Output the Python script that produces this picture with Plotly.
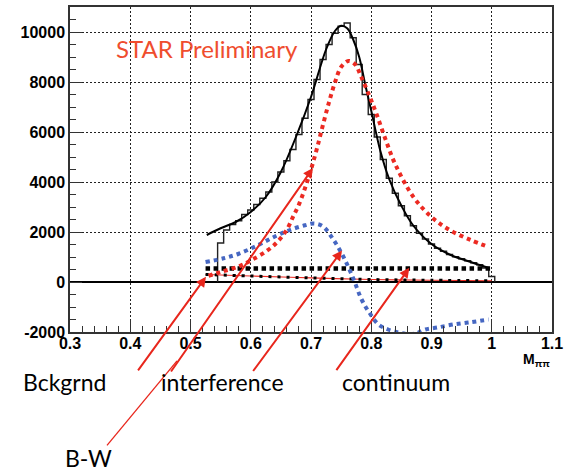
import plotly.graph_objects as go

# ---- data -------------------------------------------------------------
# measured M_pipi spectrum, 0.01 wide bins (bin centres)
hist_centers = [round(0.55 + 0.01 * i, 2) for i in range(46)]
hist_counts = [1560, 2080, 2300, 2450, 2700, 2880, 3100, 3350, 3600, 4000,
               4400, 4850, 5300, 5900, 6550, 7300, 8100, 8900, 9500, 9950,
               10230, 10360, 9770, 8700, 7500, 6700, 5800, 4900, 4150, 3550,
               3050, 2650, 2250, 1950, 1720, 1520, 1350, 1230, 1100, 1010,
               930, 850, 770, 690, 560, 220]

# total fit
fit_x = [0.527, 0.55, 0.575, 0.60, 0.625, 0.65, 0.675, 0.70, 0.725, 0.74,
         0.75, 0.76, 0.77, 0.78, 0.79, 0.80, 0.815, 0.83, 0.85, 0.87,
         0.90, 0.93, 0.96, 0.995]
fit_y = [1880, 2150, 2400, 2800, 3400, 4400, 5800, 7400, 9300, 10050,
         10250, 10150, 9700, 9000, 7900, 6850, 5250, 4100, 3050, 2250,
         1520, 1100, 840, 560]

# Breit-Wigner component
bw_x = [0.53, 0.55, 0.58, 0.60, 0.627, 0.646, 0.66, 0.671, 0.68, 0.69,
        0.70, 0.71, 0.72, 0.73, 0.74, 0.75, 0.762, 0.773, 0.784, 0.798,
        0.809, 0.823, 0.84, 0.87, 0.90, 0.93, 0.965, 0.995]
bw_y = [250, 400, 620, 860, 1250, 1650, 2100, 2650, 3100, 3750,
        4500, 5350, 6300, 7200, 8000, 8600, 8840, 8710, 8170, 7380,
        6700, 5750, 4700, 3400, 2600, 2080, 1680, 1400]

# interference term
int_x = [0.525, 0.555, 0.58, 0.61, 0.64, 0.665, 0.69, 0.705, 0.72, 0.737,
         0.754, 0.77, 0.784, 0.798, 0.812, 0.828, 0.845, 0.86, 0.875, 0.89,
         0.91, 0.936, 0.965, 0.995]
int_y = [800, 950, 1130, 1450, 1820, 2080, 2270, 2340, 2220, 1700,
         1000, 150, -700, -1270, -1700, -1900, -2020, -2080, -2050, -1900,
         -1820, -1700, -1610, -1500]

# continuum
cont_x = [0.525, 1.0]
cont_y = [545, 545]

# background
bkg_x = [0.525, 0.6, 0.7, 0.8, 0.9, 1.0]
bkg_y = [300, 240, 165, 100, 70, 50]

x_ticks = [0.3, 0.4, 0.5, 0.6, 0.7, 0.8, 0.9, 1.0, 1.1]
x_tick_labels = ["0.3", "0.4", "0.5", "0.6", "0.7", "0.8", "0.9", "1", "1.1"]
y_ticks = [-2000, 0, 2000, 4000, 6000, 8000, 10000]
y_tick_labels = ["-2000", "0", "2000", "4000", "6000", "8000", "10000"]

component_labels = ["Bckgrnd", "interference", "continuum", "B-W"]

# ---- styles ------------------------------------------------------------
RED = "#ec2a22"
BLUE = "#4667c2"
ARROW = "#e8261c"
STAR = "#ef4d2e"
TICK_FONT = dict(family="Liberation Sans", size=16, color="black", weight="bold")
LABEL_FONT = dict(family="Lato", size=23, color="black")

# histogram drawn as a step outline
half = 0.005
edges = [c - half for c in hist_centers] + [hist_centers[-1] + half]
step_x = [edges[0]] + edges[:-1] + [edges[-1], edges[-1]]
step_y = [0] + hist_counts + [hist_counts[-1], 0]

fig = go.Figure()
fig.add_trace(go.Scatter(x=step_x, y=step_y, mode="lines", line_shape="hv",
                         line=dict(color="#222", width=1.4)))
fig.add_trace(go.Scatter(x=fit_x, y=fit_y, mode="lines", line_shape="spline",
                         line=dict(color="black", width=2)))
fig.add_trace(go.Scatter(x=bkg_x, y=bkg_y, mode="lines", line_shape="spline",
                         line=dict(color=RED, width=1.2)))
fig.add_trace(go.Scatter(x=bkg_x, y=bkg_y, mode="lines", line_shape="spline",
                         line=dict(color="black", width=3, dash="3px,6px")))
fig.add_trace(go.Scatter(x=cont_x, y=cont_y, mode="lines",
                         line=dict(color="black", width=4.5, dash="4.5px,3.5px")))
fig.add_trace(go.Scatter(x=int_x, y=int_y, mode="lines", line_shape="spline",
                         line=dict(color=BLUE, width=4, dash="4px,4px")))
fig.add_trace(go.Scatter(x=bw_x, y=bw_y, mode="lines", line_shape="spline",
                         line=dict(color=RED, width=4, dash="4px,4px")))

axis_common = dict(
    showline=True, mirror=True, linecolor="#333", linewidth=1.5,
    ticks="inside", ticklen=12, tickcolor="#333", tickwidth=1,
    showgrid=True, gridcolor="#222", gridwidth=1, griddash="2px,2px",
    tickfont=TICK_FONT, tickmode="array",
)
fig.update_xaxes(range=[0.3, 1.1], tickvals=x_ticks, ticktext=x_tick_labels,
                 zeroline=False, ticklabelstandoff=-4,
                 minor=dict(tickmode="linear", tick0=0.3, dtick=0.02, ticks="inside",
                            ticklen=6, tickcolor="#333", showgrid=False),
                 **axis_common)
fig.update_yaxes(range=[-2000, 11000], tickvals=y_ticks, ticktext=y_tick_labels,
                 zeroline=True, zerolinecolor="black", zerolinewidth=1.5,
                 minor=dict(tickmode="linear", tick0=0, dtick=500, ticks="inside",
                            ticklen=6, tickcolor="#333", showgrid=False),
                 **axis_common)


def label(text, x, y, font, yanchor="middle", xanchor="center"):
    return dict(text=text, xref="paper", yref="paper", x=x, y=y,
                xanchor=xanchor, yanchor=yanchor, showarrow=False, font=font)


annotations = [
    label("STAR Preliminary", 0.284, 0.872, dict(family="Lato", size=24, color=STAR)),
    label("<b>M</b><sub><b>ππ</b></sub>", 1.0, -0.085,
          dict(family="Liberation Sans", size=14, color="black"), xanchor="right"),
    label(component_labels[0], -0.011, -0.153, LABEL_FONT),
    label(component_labels[1], 0.317, -0.153, LABEL_FONT),
    label(component_labels[2], 0.677, -0.153, LABEL_FONT),
    label(component_labels[3], 0.038, -0.338, LABEL_FONT, yanchor="top"),
]

# arrows from the labels to the components (head in data units, tail offset in px)
arrows = [
    (0.5257, 207, -69, 95),    # Bckgrnd
    (0.7033, 4560, -143, 205),  # B-W
    (0.7515, 1260, -90, 122),  # interference
    (0.8632, 573, -74, 104),   # continuum
]
for hx, hy, ax, ay in arrows:
    annotations.append(dict(x=hx, y=hy, xref="x", yref="y", ax=ax, ay=ay,
                            text="", showarrow=True, arrowhead=2, arrowsize=1,
                            arrowwidth=2, arrowcolor=ARROW, standoff=0))

fig.update_layout(
    width=570, height=469,
    margin=dict(l=70, r=18, t=5, b=137),
    paper_bgcolor="white", plot_bgcolor="white",
    showlegend=False,
    annotations=annotations,
    shapes=[dict(type="line", xref="paper", yref="paper",
                 x0=(107 - 70) / 482, y0=(332 - 446) / 327,
                 x1=(177 - 70) / 482, y1=(332 - 361) / 327,
                 line=dict(color=ARROW, width=1.3))],
)

fig.write_html("out.html")
